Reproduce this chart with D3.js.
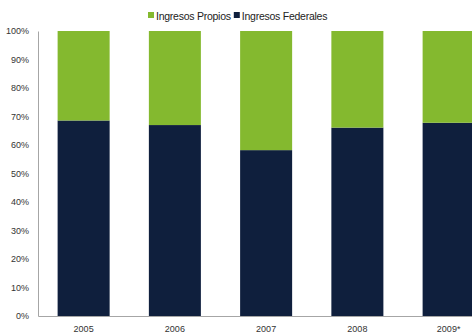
<!DOCTYPE html>
<html>
<head>
<meta charset="utf-8">
<script src="https://cdn.jsdelivr.net/npm/d3@7"></script>
<style>
  html, body { margin: 0; padding: 0; background: #fff; overflow: hidden; }
  svg { display: block; font-family: "Liberation Sans", Arial, sans-serif; }
</style>
</head>
<body>
<svg id="chart" width="472" height="336"></svg>
<script>
// Share of revenue by source, per year (percent)
const years = ["2005", "2006", "2007", "2008", "2009*"];
const federales = [68.6, 67.0, 58.2, 66.1, 67.8];
const propios = federales.map(v => 100 - v);
const seriesNames = ["Ingresos Propios", "Ingresos Federales"];
const seriesColors = ["#84b92f", "#0f1f3d"];
const yTicks = [0, 10, 20, 30, 40, 50, 60, 70, 80, 90, 100];

const svg = d3.select("#chart");
const plotLeft = 38, plotTop = 31, plotBottom = 316;
const step = 91.25;

const x = d3.scaleBand()
  .domain(years)
  .range([plotLeft, plotLeft + step * years.length])
  .paddingInner(0.43)
  .paddingOuter(0.215);

const y = d3.scaleLinear().domain([0, 100]).range([plotBottom, plotTop]);

const rows = years.map((yr, i) => ({ year: yr, "Ingresos Federales": federales[i], "Ingresos Propios": propios[i] }));
const stack = d3.stack().keys(["Ingresos Federales", "Ingresos Propios"]);
const layers = stack(rows);
const color = d3.scaleOrdinal().domain(seriesNames).range(seriesColors);

// Stacked bars
svg.append("g").selectAll("g")
  .data(layers)
  .join("g")
  .attr("fill", d => color(d.key))
  .selectAll("rect")
  .data(d => d)
  .join("rect")
  .attr("x", d => x(d.data.year))
  .attr("y", d => y(d[1]))
  .attr("width", x.bandwidth())
  .attr("height", d => y(d[0]) - y(d[1]));

// Y axis
const yAxis = svg.append("g")
  .attr("transform", `translate(${plotLeft},0)`)
  .call(d3.axisLeft(y).tickValues(yTicks).tickFormat(d => d + "%").tickSize(0).tickPadding(9));
yAxis.select(".domain").attr("stroke", "#a6a6a6").attr("stroke-width", 1);
yAxis.selectAll("text").attr("font-size", 9).attr("fill", "#333").attr("font-family", "Liberation Sans, Arial, sans-serif");

// X axis
const xAxis = svg.append("g")
  .attr("transform", `translate(0,${plotBottom})`)
  .call(d3.axisBottom(x).tickSize(0).tickPadding(10));
xAxis.select(".domain").attr("stroke", "#a6a6a6").attr("stroke-width", 1);
xAxis.selectAll("text").attr("font-size", 9).attr("fill", "#333").attr("font-family", "Liberation Sans, Arial, sans-serif");

// Legend
const legend = svg.append("g").attr("transform", "translate(148,9)");
let lx = 0;
seriesNames.forEach((name) => {
  const g = legend.append("g").attr("transform", `translate(${lx},0)`);
  g.append("rect").attr("width", 6).attr("height", 6).attr("y", 3).attr("fill", color(name));
  const t = g.append("text").attr("x", 8).attr("y", 10.5)
    .attr("font-size", 10.5).attr("letter-spacing", -0.25).attr("fill", "#222").text(name);
  lx += 8 + t.node().getComputedTextLength() + 3;
});
</script>
</body>
</html>
